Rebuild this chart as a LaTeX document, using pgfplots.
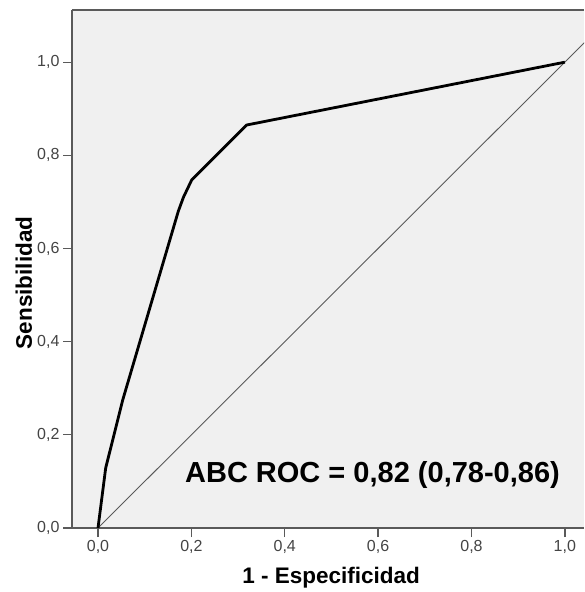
\documentclass[border=0pt]{standalone}
\usepackage{pgfplots}
\pgfplotsset{compat=1.18}
\usepackage{fontspec}
\setmainfont{Liberation Sans}
\definecolor{bgc}{HTML}{F0F0F0}
\definecolor{framec}{HTML}{5A5A5A}
\definecolor{tickc}{HTML}{444444}
\begin{document}
\begin{tikzpicture}[x=1pt,y=1pt]
\begin{axis}[
  at={(0,0)}, anchor=south west,
  scale only axis, width=512pt, height=518pt,
  xmin=-0.0557, xmax=1.041, ymin=0, ymax=1.112,
  axis x line=box, axis y line=left,
  axis line style={-, framec, line width=1.3pt},
  axis background/.style={fill=bgc},
  xtick={0,0.2,0.4,0.6,0.8,1.0},
  ytick={0,0.2,0.4,0.6,0.8,1.0},
  xtick pos=bottom, ytick pos=left,
  tick align=outside,
  major tick length=9pt,
  tick style={framec, line width=1.3pt},
  /pgf/number format/.cd, use comma, fixed, fixed zerofill, precision=1, assume math mode=true,
  /pgfplots/.cd,
  tick label style={font=\fontsize{16}{18}\selectfont, text=tickc},
  xticklabel style={yshift=0pt},
  yticklabel style={xshift=0pt},
  every axis x label/.style={at={(axis description cs:0.506,-0.095)}, anchor=center},
  every axis y label/.style={at={(axis description cs:-0.094,0.473)}, rotate=90, anchor=center},
  label style={font=\fontsize{22.5}{26}\selectfont\bfseries},
  xlabel={1 - Especificidad},
  ylabel={Sensibilidad},
  clip=true,
]
\addplot[color=black!65, line width=0.9pt] coordinates {(0,0) (1.2,1.2)};
\addplot[black, line width=2.8pt, line join=round] coordinates {
  (0,0) (0.0165,0.129) (0.053,0.275) (0.172,0.68) (0.183,0.71) (0.2006,0.747) (0.318,0.865) (1,1)
};
\node[font=\fontsize{29}{32}\selectfont\bfseries, anchor=center] at (axis cs:0.588,0.114) {ABC ROC = 0,82 (0,78-0,86)};
\end{axis}
\pgfresetboundingbox
\useasboundingbox (-72,-64) rectangle (512,528);
\end{tikzpicture}
\end{document}
